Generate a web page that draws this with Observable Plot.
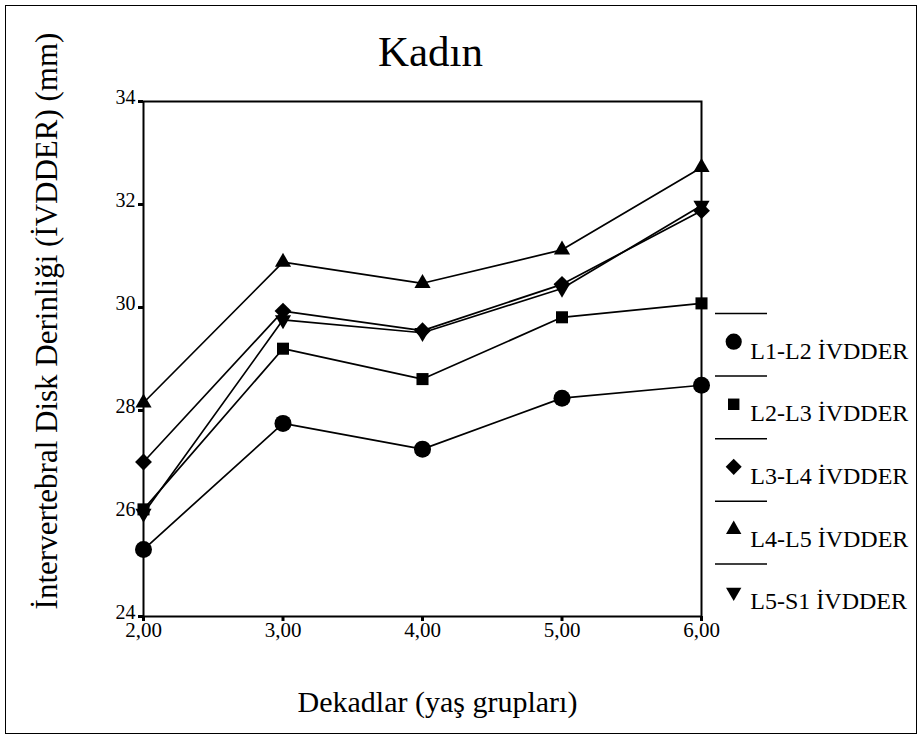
<!DOCTYPE html>
<html>
<head>
<meta charset="utf-8">
<script src="https://cdn.jsdelivr.net/npm/d3@7"></script>
<script src="https://cdn.jsdelivr.net/npm/@observablehq/plot@0.6"></script>
<style>
  body { margin: 0; background: #fff; }
  #wrap { position: relative; width: 918px; height: 736px; background: #fff; overflow: hidden; }
  #wrap > svg, #wrap > .layer { position: absolute; left: 0; top: 0; }
  #border { position: absolute; left: 5px; top: 5px; width: 910px; height: 727px; border: 1.5px solid #000; pointer-events: none; }
</style>
</head>
<body>
<div id="wrap"><div id="border"></div></div>
<script>
// ---- data ----
const decades = [2, 3, 4, 5, 6];
const seriesNames = ["L1-L2 İVDDER", "L2-L3 İVDDER", "L3-L4 İVDDER", "L4-L5 İVDDER", "L5-S1 İVDDER"];
const L1L2 = [25.30, 27.75, 27.25, 28.24, 28.49];
const L2L3 = [26.08, 29.20, 28.61, 29.81, 30.08];
const L3L4 = [27.00, 29.93, 29.55, 30.45, 31.88];
const L4L5 = [28.15, 30.88, 30.47, 31.12, 32.72];
const L5S1 = [26.00, 29.76, 29.51, 30.37, 31.98];
const yTicks = [24, 26, 28, 30, 32, 34];
const xTicks = [2, 3, 4, 5, 6];
const title = "Kadın";
const xLabel = "Dekadlar (yaş grupları)";
const yLabel = "İntervertebral Disk Derinliği (İVDDER) (mm)";

const seriesValues = [L1L2, L2L3, L3L4, L4L5, L5S1];

// custom downward triangle
const sqrt3 = Math.sqrt(3);
const symbolTriangleDown = {
  draw(context, size) {
    const y = -Math.sqrt(size / (sqrt3 * 3));
    context.moveTo(0, -y * 2);
    context.lineTo(-sqrt3 * y, y);
    context.lineTo(sqrt3 * y, y);
    context.closePath();
  }
};
const symbols = [d3.symbolCircle, d3.symbolSquare, d3.symbolDiamond2, d3.symbolTriangle, symbolTriangleDown];
const radii = [8.5, 6.8, 7.6, 6.0, 6.0];

const rows = seriesNames.flatMap((name, s) =>
  decades.map((d, i) => ({decade: d, value: seriesValues[s][i], series: name, s})));

const font = "'Liberation Serif', 'Times New Roman', serif";
const fmt = d => d3.format(".2f")(d).replace(".", ",");

const main = Plot.plot({
  width: 918,
  height: 736,
  marginLeft: 143,
  marginRight: 217,
  marginTop: 101,
  marginBottom: 120,
  style: {fontFamily: font, background: "transparent", color: "#000", overflow: "visible"},
  x: {domain: [2, 6], axis: null},
  y: {domain: [24, 34], axis: null},
  marks: [
    Plot.frame({stroke: "#000", strokeWidth: 2}),
    Plot.ruleX(xTicks, {x: d => d, y1: 24, y2: 24, insetBottom: -5, stroke: "#000", strokeWidth: 3}),
    Plot.ruleY(yTicks, {y: d => d, x1: 2, x2: 2, insetLeft: -5, stroke: "#000", strokeWidth: 3}),
    Plot.text(xTicks, {x: d => d, text: fmt, frameAnchor: "bottom", lineAnchor: "top", dy: 6, fontSize: 21, fill: "#000"}),
    Plot.text(yTicks, {y: d => d, text: d => String(d), frameAnchor: "left", textAnchor: "end", lineAnchor: "middle", dx: -8, dy: -4, fontSize: 20, fill: "#000"}),
    Plot.line(rows, {x: "decade", y: "value", z: "series", stroke: "#000", strokeWidth: 1.7}),
    ...seriesNames.map((name, s) =>
      Plot.dot(rows.filter(r => r.s === s), {x: "decade", y: "value", symbol: symbols[s], r: radii[s], fill: "#000", stroke: "none"})),
    Plot.text([title], {frameAnchor: "top", lineAnchor: "middle", dx: 8, dy: -49, fontSize: 43, fill: "#000"}),
    Plot.text([xLabel], {frameAnchor: "bottom", lineAnchor: "middle", dx: 15, dy: 86, fontSize: 30, fill: "#000"}),
    Plot.text([yLabel], {frameAnchor: "left", textAnchor: "middle", lineAnchor: "middle", dx: -96, dy: -38, rotate: -90, fontSize: 31, fill: "#000"})
  ]
});
document.getElementById("wrap").appendChild(main);

// legend drawn as a second plot overlay
const idx = d3.range(seriesNames.length);
const legend = Plot.plot({
  width: 918,
  height: 736,
  marginLeft: 715,
  marginRight: 151,
  marginTop: 313,
  marginBottom: 110,
  style: {fontFamily: font, background: "transparent", color: "#000", overflow: "visible"},
  x: {domain: [0, 1], axis: null},
  y: {domain: [0, 5], reverse: true, axis: null},
  marks: [
    Plot.ruleY(idx, {y: d => d, x1: 0, x2: 1, stroke: "#000", strokeWidth: 1.5}),
    ...idx.map(i => Plot.dot([i], {x: 0.35, y: d => d + 0.45, symbol: symbols[i], r: radii[i] * 0.95, fill: "#000", stroke: "none"})),
    Plot.text(idx, {x: 0.67, y: d => d + 0.6, text: d => seriesNames[d], textAnchor: "start", fontSize: 24, fill: "#000"})
  ]
});
legend.setAttribute("class", "layer");
document.getElementById("wrap").appendChild(legend);
</script>
</body>
</html>
